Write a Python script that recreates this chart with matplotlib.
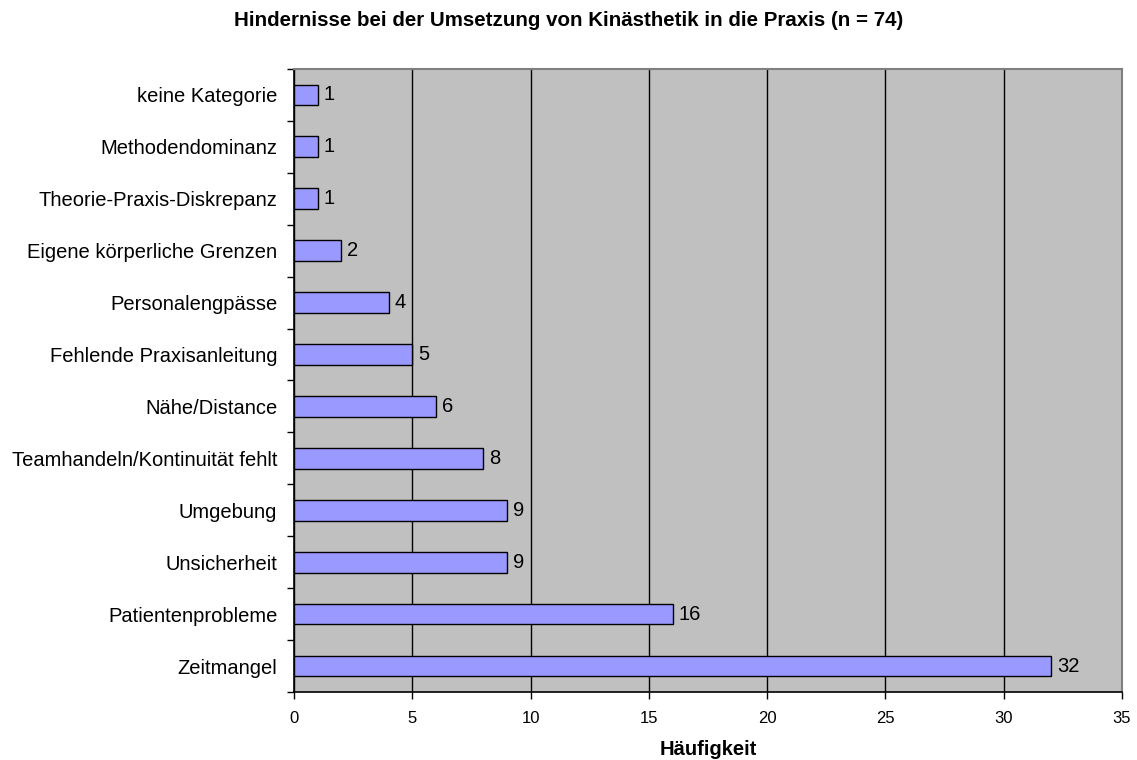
import matplotlib
matplotlib.use("Agg")
import matplotlib.pyplot as plt
import numpy as np

plt.rcParams["font.family"] = ["Liberation Sans", "DejaVu Sans"]

# ==== Daten ====
categories = [
    "Zeitmangel",
    "Patientenprobleme",
    "Unsicherheit",
    "Umgebung",
    "Teamhandeln/Kontinuität fehlt",
    "Nähe/Distance",
    "Fehlende Praxisanleitung",
    "Personalengpässe",
    "Eigene körperliche Grenzen",
    "Theorie-Praxis-Diskrepanz",
    "Methodendominanz",
    "keine Kategorie",
]
counts = [32, 16, 9, 9, 8, 6, 5, 4, 2, 1, 1, 1]
x_ticks = [0, 5, 10, 15, 20, 25, 30, 35]

TITLE = "Hindernisse bei der Umsetzung von Kinästhetik in die Praxis (n = 74)"


def main():
    fig = plt.figure(figsize=(11.37, 7.6), dpi=100)
    ax = fig.add_axes([0.2586, 0.0895, 0.7282, 0.8197])
    ax.set_facecolor("#C0C0C0")

    y = np.arange(len(categories))
    ax.barh(y, counts, height=0.4, color="#9999FF", edgecolor="black",
            linewidth=1.0, zorder=3)
    for yi, v in zip(y, counts):
        ax.text(v + 0.25, yi, str(v), va="center", ha="left", fontsize=14.5,
                zorder=4)

    ax.set_xlim(0, 35)
    ax.set_ylim(-0.5, len(categories) - 0.5)
    ax.set_xticks(x_ticks)
    ax.xaxis.grid(True, color="black", linewidth=1.0, zorder=1)
    ax.set_axisbelow(True)

    ax.set_yticks(y)
    ax.set_yticklabels(categories, fontsize=14.5)
    ax.tick_params(axis="y", length=0, pad=12)
    ax.set_yticks(np.arange(-0.5, len(categories), 1.0), minor=True)
    ax.tick_params(axis="y", which="minor", length=5, width=1, direction="out")
    ax.tick_params(axis="x", length=5, width=1, labelsize=12, pad=9)

    for side in ["top", "right"]:
        ax.spines[side].set_color("#808080")
        ax.spines[side].set_linewidth(1.5)
    for side in ["left", "bottom"]:
        ax.spines[side].set_color("black")
        ax.spines[side].set_linewidth(1.2)

    ax.set_xlabel("Häufigkeit", fontsize=14.5, fontweight="bold", labelpad=10)
    fig.text(0.5, 1 - 21 / 760, TITLE, fontsize=14.8, fontweight="bold",
             ha="center", va="center")

    fig.savefig("out.png", dpi=100)


if __name__ == "__main__":
    main()
